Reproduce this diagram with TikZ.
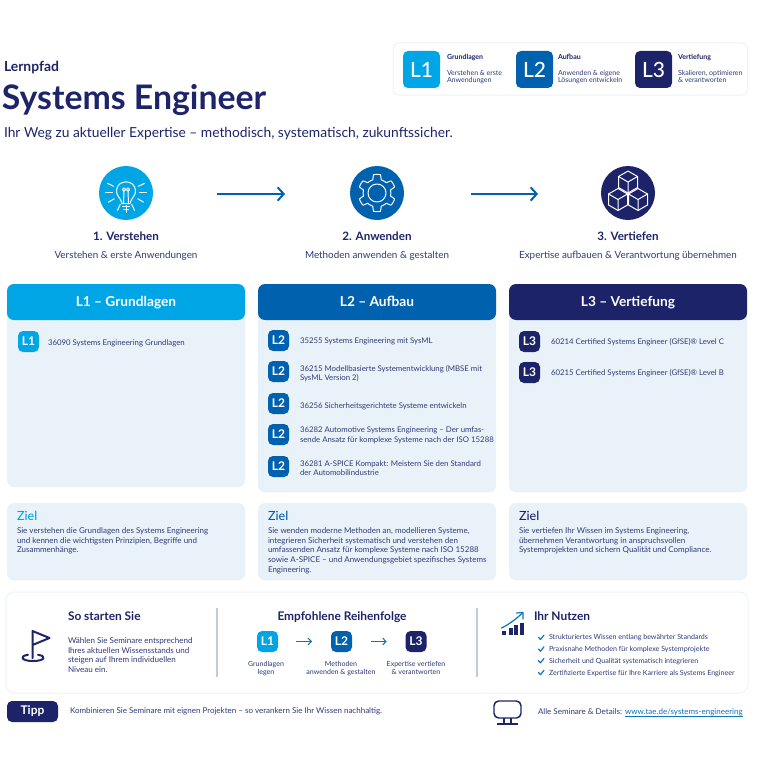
\documentclass[tikz,border=0pt]{standalone}
\usepackage{fontspec}
\setmainfont{Lato}
\newfontfamily\medfont{Lato Medium}
\usetikzlibrary{arrows.meta}
\definecolor{navy}{HTML}{1D2568}
\definecolor{txt}{HTML}{2F3A78}
\definecolor{lone}{HTML}{00A5E6}
\definecolor{ltwo}{HTML}{0062AE}
\definecolor{lthree}{HTML}{1C2368}
\definecolor{panel}{HTML}{EAF2F9}
\definecolor{edge}{HTML}{EDF3F9}
\definecolor{divider}{HTML}{C3CADC}
\definecolor{linkc}{HTML}{0F74BC}
\newcommand{\fs}[2]{\fontsize{\dimexpr#1\dimexpr0.75pt\relax\relax}{\dimexpr#2\dimexpr0.75pt\relax\relax}\selectfont}
\tikzset{
 x=0.75pt,y=-0.75pt,
 box/.style={anchor=north west,inner sep=0pt,outer sep=0pt,rounded corners=#1*0.75pt},
 badge/.style={box=5,minimum width=15.75pt,minimum height=15.75pt,text=white,font=\fs{12}{12}\bfseries},
 bigbadge/.style={box=5,minimum width=27.75pt,minimum height=27.75pt,text=white,font=\fs{21}{21}\medfont},
 head/.style={box=7,minimum width=178.5pt,minimum height=27pt,text=white,font=\fs{13.7}{13.7}\bfseries,text height=8.5pt,text depth=2.5pt},
 tl/.style={anchor=base west,inner sep=0pt,outer sep=0pt,align=left,text=txt},
 tc/.style={anchor=base,inner sep=0pt,outer sep=0pt,align=center,text=txt},
 course/.style={tl,font=\fs{7.8}{9.4}},
 zieltitle/.style={tl,font=\fs{12.6}{12.6}\medfont},
 zieltext/.style={tl,font=\fs{8}{9.6}},
 leghead/.style={tl,font=\fs{7}{8}\bfseries,text=navy},
 legtext/.style={tl,font=\fs{7}{8.2}},
 stephead/.style={tc,font=\fs{11.6}{12.6}\bfseries,text=navy},
 steptext/.style={tc,font=\fs{9.85}{10.4}},
 subhead/.style={tl,font=\fs{11.9}{12.4}\bfseries,text=navy},
 small/.style={tc,font=\fs{7.05}{8.6}},
 icon/.style={white,line width=0.75pt,line cap=round,line join=round},
 flow/.style={ltwo,line width=1.5pt,-{Straight Barb[length=4.5pt,width=10pt,line width=1.5pt]}},
 miniflow/.style={linkc,line width=0.8pt,-{Straight Barb[length=2.4pt,width=5pt,line width=0.8pt]}},
 navyicon/.style={navy,line width=1.5pt,line cap=round,line join=round},
}
\newcommand{\cube}[2]{%
 \draw[icon] (#1,#2-11) -- (#1+9.5,#2-5.5) -- (#1+9.5,#2+5.5) -- (#1,#2+11) -- (#1-9.5,#2+5.5) -- (#1-9.5,#2-5.5) -- cycle;
 \draw[icon] (#1-9.5,#2-5.5) -- (#1,#2) -- (#1+9.5,#2-5.5) (#1,#2) -- (#1,#2+11);}
\newcommand{\tick}[1]{\draw[linkc,line width=0.9pt,line cap=round,line join=round] (538.5,#1) -- (540.5,#1+2.2) -- (544,#1-2.2);}
\begin{document}
\begin{tikzpicture}
\useasboundingbox (0,0) rectangle (767,767);
\fill[white] (0,0) rectangle (767,767);

% title
\node[tl,font=\fs{13.9}{13.9}\bfseries,text=navy] (lern) at (4,71) {Lernpfad};
\node[tl,font=\fs{33.8}{33.8}\bfseries,text=navy] (title) at (2,109) {Systems Engineer};
\node[tl,font=\fs{13.8}{13.8},text=navy] (sub) at (4,137) {Ihr Weg zu aktueller Expertise – methodisch, systematisch, zukunftssicher.};

% legend
\node[box=6,draw=edge,line width=0.75pt,fill=white,minimum width=266pt,minimum height=39pt] (legend) at (393,43) {};
\node[bigbadge,fill=lone] (lg1) at (403,51) {L1};
\node[bigbadge,fill=ltwo] (lg2) at (516,51) {L2};
\node[bigbadge,fill=lthree] (lg3) at (635,51) {L3};
\node[leghead] (lh1) at (447,60) {Grundlagen};
\node[leghead] (lh2) at (558,60) {Aufbau};
\node[leghead] (lh3) at (678,60) {Vertiefung};
\node[legtext] (lt1a) at (447,75) {Verstehen \& erste};
\node[legtext] (lt1b) at (447,83) {Anwendungen};
\node[legtext] (lt2a) at (558,75) {Anwenden \& eigene};
\node[legtext] (lt2b) at (558,83) {Lösungen entwickeln};
\node[legtext] (lt3a) at (678,75) {Skalieren, optimieren};
\node[legtext] (lt3b) at (678,83) {\& verantworten};

% step icons
\node[circle,fill=lone,minimum size=40.5pt,inner sep=0pt] (s1) at (126,193) {};
\node[circle,fill=ltwo,minimum size=40.5pt,inner sep=0pt] (s2) at (377,193) {};
\node[circle,fill=lthree,minimum size=40.5pt,inner sep=0pt] (s3) at (628,193) {};

% bulb
\foreach \a in {0,30,65,90,115,150,180,-25,-155}
  \draw[icon] (126,192) ++(\a:13.5) -- ++(\a:6.8);
\draw[icon] (122,203.5) .. controls (121,198) and (116,196) .. (116.5,190.5) .. controls (117,179) and (135,179) .. (135.5,190.5) .. controls (136,196) and (131,198) .. (130,203.5) -- cycle;
\draw[icon] (123.5,203.5) -- (124,191) (128.5,203.5) -- (128,191);
\draw[icon] (124,189.5) circle (1.6) (128,189.5) circle (1.6);
\draw[icon] (122.5,206) -- (129.5,206) (123.5,209) -- (128.5,209);

% gear
\draw[icon,shift={(377,193)}] plot[domain=0:360,samples=241,smooth] (\x:{16.2+2.4*min(1,max(-1,3*(cos(6*\x-540)-0.1)))}) -- cycle;
\draw[icon] (377,193) circle (9);

% cubes
\cube{628}{182}
\cube{618}{199.5}
\cube{638}{199.5}

% step connectors
\coordinate (a1s) at (217,194);
\coordinate (a1e) at (285,194);
\coordinate (a2s) at (471,194);
\coordinate (a2e) at (538,194);
\draw[flow] (a1s) -- (a1e);
\draw[flow] (a2s) -- (a2e);

\node[stephead] (h1) at (126,240) {1. Verstehen};
\node[stephead] (h2) at (377,240) {2. Anwenden};
\node[stephead] (h3) at (628,240) {3. Vertiefen};
\node[steptext] (t1) at (126,258) {Verstehen \& erste Anwendungen};
\node[steptext] (t2) at (377,258) {Methoden anwenden \& gestalten};
\node[steptext] (t3) at (628,258) {Expertise aufbauen \& Verantwortung übernehmen};

% columns
\node[box=7,fill=panel,minimum width=178.5pt,minimum height=150pt] (p1) at (7,287) {};
\node[box=7,fill=panel,minimum width=178.5pt,minimum height=154pt] (p2) at (258,287) {};
\node[box=7,fill=panel,minimum width=178.5pt,minimum height=154pt] (p3) at (509,287) {};
\node[head,fill=lone] (c1) at (7,284) {L1 – Grundlagen};
\node[head,fill=ltwo] (c2) at (258,284) {L2 – Aufbau};
\node[head,fill=lthree] (c3) at (509,284) {L3 – Vertiefung};

\node[badge,fill=lone] (b11) at (18,331) {L1};
\node[course] (k11) at (48,345) {36090 Systems Engineering Grundlagen};

\node[badge,fill=ltwo] (b21) at (268,330) {L2};
\node[course] (k21) at (300,343) {35255 Systems Engineering mit SysML};
\node[badge,fill=ltwo] (b22) at (268,361) {L2};
\node[course] (k22a) at (300,371) {36215 Modellbasierte Systementwicklung (MBSE mit};
\node[course] (k22b) at (300,380) {SysML Version 2)};
\node[badge,fill=ltwo] (b23) at (268,393) {L2};
\node[course] (k23) at (300,408) {36256 Sicherheitsgerichtete Systeme entwickeln};
\node[badge,fill=ltwo] (b24) at (268,424) {L2};
\node[course] (k24a) at (300,432) {36282 Automotive Systems Engineering – Der umfas-};
\node[course] (k24b) at (300,442) {sende Ansatz für komplexe Systeme nach der ISO 15288};
\node[badge,fill=ltwo] (b25) at (268,456) {L2};
\node[course] (k25a) at (300,466) {36281 A-SPICE Kompakt: Meistern Sie den Standard};
\node[course] (k25b) at (300,475) {der Automobilindustrie};

\node[badge,fill=lthree] (b31) at (519,331) {L3};
\node[course] (k31) at (551,344) {60214 Certified Systems Engineer (GfSE)® Level C};
\node[badge,fill=lthree] (b32) at (519,362) {L3};
\node[course] (k32) at (551,375) {60215 Certified Systems Engineer (GfSE)® Level B};

% goals
\node[box=7,fill=panel,minimum width=178.5pt,minimum height=58pt] (g1) at (7,503) {};
\node[box=7,fill=panel,minimum width=178.5pt,minimum height=58pt] (g2) at (258,503) {};
\node[box=7,fill=panel,minimum width=178.5pt,minimum height=58pt] (g3) at (509,503) {};
\node[zieltitle,text=lone] (z1) at (17,520) {Ziel};
\node[zieltitle,text=ltwo] (z2) at (268,520) {Ziel};
\node[zieltitle,text=lthree] (z3) at (519,520) {Ziel};
\node[zieltext] (y11) at (17,533) {Sie verstehen die Grundlagen des Systems Engineering};
\node[zieltext] (y12) at (17,543) {und kennen die wichtigsten Prinzipien, Begriffe und};
\node[zieltext] (y13) at (17,552.5) {Zusammenhänge.};
\node[zieltext] (y21) at (268,533) {Sie wenden moderne Methoden an, modellieren Systeme,};
\node[zieltext] (y22) at (268,543) {integrieren Sicherheit systematisch und verstehen den};
\node[zieltext] (y23) at (268,552.5) {umfassenden Ansatz für komplexe Systeme nach ISO 15288};
\node[zieltext] (y24) at (268,562) {sowie A-SPICE – und Anwendungsgebiet spezifisches Systems};
\node[zieltext] (y25) at (268,572) {Engineering.};
\node[zieltext] (y31) at (519,533) {Sie vertiefen Ihr Wissen im Systems Engineering,};
\node[zieltext] (y32) at (519,543) {übernehmen Verantwortung in anspruchsvollen};
\node[zieltext] (y33) at (519,552.5) {Systemprojekten und sichern Qualität und Compliance.};

% bottom card
\node[box=8,draw=edge,line width=0.75pt,fill=white,minimum width=556.5pt,minimum height=75.75pt] (card) at (6,592) {};
\draw[divider,line width=1pt] (217,608) -- (217,677);
\draw[divider,line width=1pt] (477,608) -- (477,677);

% flag
\draw[navyicon] (32.5,658) -- (32.5,631) -- (49.5,638) -- (32.5,645);
\draw[navyicon] (38,654.8) .. controls (47,656) and (45,661) .. (33,661) .. controls (21,661) and (19,656) .. (28,654.8);

\node[subhead] (so) at (68,620.5) {So starten Sie};
\node[tl,font=\fs{8.05}{9.6}] (so1) at (68,643) {Wählen Sie Seminare entsprechend};
\node[tl,font=\fs{8.05}{9.6}] (so2) at (68,653) {Ihres aktuellen Wissensstands und};
\node[tl,font=\fs{8.05}{9.6}] (so3) at (68,662.5) {steigen auf Ihrem individuellen};
\node[tl,font=\fs{8.05}{9.6}] (so4) at (68,672) {Niveau ein.};

\node[subhead,anchor=base] (emp) at (342,620.5) {Empfohlene Reihenfolge};
\node[badge,fill=lone] (r1) at (257,631) {L1};
\node[badge,fill=ltwo] (r2) at (331,631) {L2};
\node[badge,fill=lthree] (r3) at (405.5,631) {L3};
\draw[miniflow] ([xshift=13.5pt]r1.east) -- ([xshift=25.5pt]r1.east);
\draw[miniflow] ([xshift=14.5pt]r2.east) -- ([xshift=26pt]r2.east);
\node[small] (ra1) at (266,666) {Grundlagen};
\node[small] (ra2) at (266,674.5) {legen};
\node[small] (rb1) at (341,666) {Methoden};
\node[small] (rb2) at (341,674.5) {anwenden \& gestalten};
\node[small] (rc1) at (416,666) {Expertise vertiefen};
\node[small] (rc2) at (416,674.5) {\& verantworten};

% chart icon
\fill[navy] (502,631) rectangle (506,635);
\fill[navy] (508.5,628) rectangle (512.5,635);
\fill[navy] (513.5,625) rectangle (517.5,635);
\fill[navy] (519.5,622.5) rectangle (523.5,635);
\draw[linkc,line width=0.9pt,line join=round,line cap=round] (501.5,628) .. controls (510,624) and (517,618) .. (522.5,613);
\draw[linkc,line width=0.9pt,line join=round,line cap=round] (516.5,613) -- (523,612.5) -- (523,619);

\node[subhead] (nu) at (534,620.5) {Ihr Nutzen};
\tick{637.3}\tick{649}\tick{660.6}\tick{672.5}
\node[tl,font=\fs{7.1}{8.6}] (n1) at (549,639) {Strukturiertes Wissen entlang bewährter Standards};
\node[tl,font=\fs{7.1}{8.6}] (n2) at (549,651) {Praxisnahe Methoden für komplexe Systemprojekte};
\node[tl,font=\fs{7.1}{8.6}] (n3) at (549,663) {Sicherheit und Qualität systematisch integrieren};
\node[tl,font=\fs{7.1}{8.6}] (n4) at (549,675) {Zertifizierte Expertise für Ihre Karriere als Systems Engineer};

% footer
\node[box=5,fill=lthree,minimum width=38.25pt,minimum height=15.75pt,text=white,font=\fs{12}{13}\bfseries] (tipp) at (7,701) {Tipp};
\node[tl,font=\fs{8}{9}] (ti) at (70,713.5) {Kombinieren Sie Seminare mit eignen Projekten – so verankern Sie Ihr Wissen nachhaltig.};
\draw[navy,line width=1.1pt,rounded corners=3.5pt] (494,701) rectangle (521,718);
\draw[navy,line width=1.1pt] (504,718) -- (504,724) (511,718) -- (511,724) (497,724) -- (518,724);
\node[tl,font=\fs{8}{9}] (al) at (538,714) {Alle Seminare \& Details:};
\node[tl,font=\fs{8}{9},text=linkc] (link) at (625,714) {www.tae.de/systems-engineering};
\draw[linkc,line width=0.6pt] (625,716) -- (743,716);
\end{tikzpicture}
\end{document}
